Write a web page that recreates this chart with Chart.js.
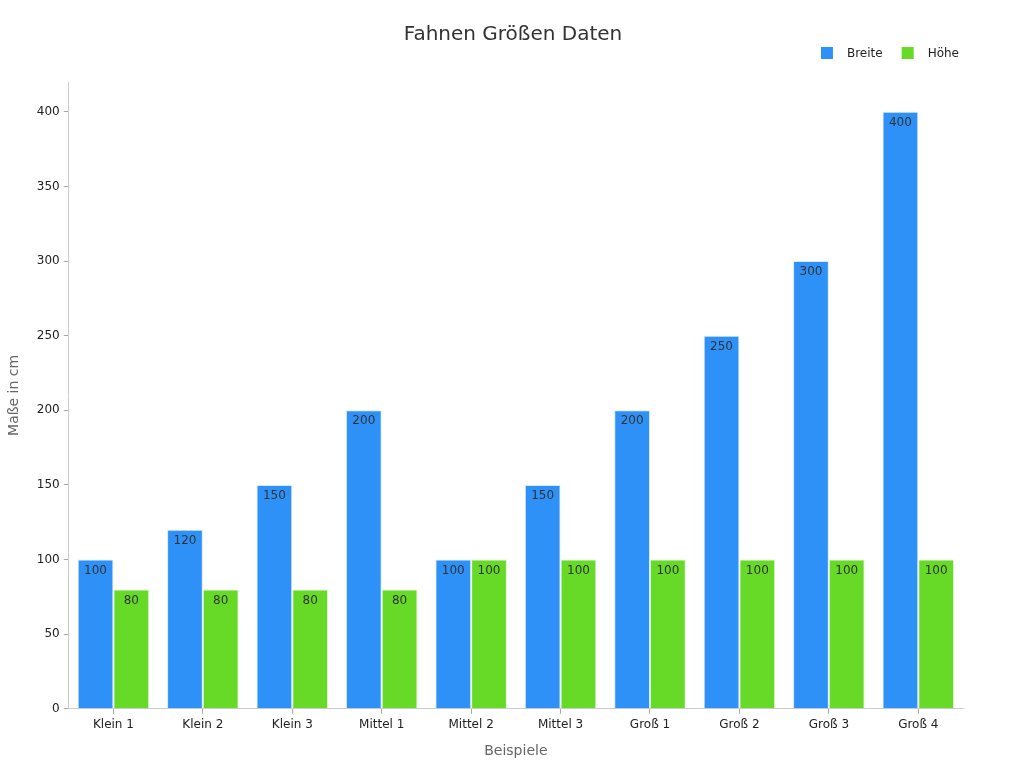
<!DOCTYPE html>
<html>
<head>
<meta charset="utf-8">
<script src="https://cdn.jsdelivr.net/npm/chart.js@4"></script>
<style>
  html, body { margin: 0; padding: 0; background: #fff; }
  #wrap { width: 1024px; height: 768px; }
</style>
</head>
<body>
<div id="wrap"><canvas id="flagChart"></canvas></div>
<script>
const categories = ['Klein 1', 'Klein 2', 'Klein 3', 'Mittel 1', 'Mittel 2', 'Mittel 3', 'Groß 1', 'Groß 2', 'Groß 3', 'Groß 4'];
const breite = [100, 120, 150, 200, 100, 150, 200, 250, 300, 400];
const hoehe = [80, 80, 80, 80, 100, 100, 100, 100, 100, 100];
const seriesNames = ['Breite', 'Höhe'];

const fontFamily = '"DejaVu Sans", sans-serif';

// Werte oben in den Balken
const valueLabels = {
  id: 'valueLabels',
  afterDatasetsDraw(chart) {
    const ctx = chart.ctx;
    ctx.save();
    ctx.font = '12px ' + fontFamily;
    ctx.fillStyle = '#333';
    ctx.textAlign = 'center';
    ctx.textBaseline = 'top';
    chart.data.datasets.forEach((ds, i) => {
      chart.getDatasetMeta(i).data.forEach((bar, j) => {
        ctx.fillText(String(ds.data[j]), bar.x, bar.y + 5);
      });
    });
    ctx.restore();
  }
};

// Legende rechts oben, wie im Original
const topLegend = {
  id: 'topLegend',
  afterDraw(chart) {
    const ctx = chart.ctx;
    ctx.save();
    ctx.font = '12px ' + fontFamily;
    ctx.textBaseline = 'middle';
    ctx.textAlign = 'left';
    const y = 53;
    let x = chart.chartArea.right - 4;
    const items = chart.data.datasets.map(ds => ({ text: ds.label, color: ds.backgroundColor })).reverse();
    items.forEach(it => {
      const w = ctx.measureText(it.text).width;
      x -= w;
      ctx.fillStyle = '#222';
      ctx.fillText(it.text, x, y + 1);
      x -= 26;
      ctx.fillStyle = it.color;
      ctx.fillRect(x, y - 6, 12, 12);
      x -= 19;
    });
    ctx.restore();
  }
};

new Chart(document.getElementById('flagChart'), {
  type: 'bar',
  data: {
    labels: categories,
    datasets: [
      { label: seriesNames[0], data: breite, backgroundColor: '#2e91f7', borderColor: '#d8e8f8', borderWidth: 1 },
      { label: seriesNames[1], data: hoehe, backgroundColor: '#66da26', borderColor: '#def5d0', borderWidth: 1 }
    ]
  },
  options: {
    responsive: true,
    maintainAspectRatio: false,
    animation: false,
    datasets: { bar: { categoryPercentage: 0.8, barPercentage: 1 } },
    layout: { padding: { left: 2, right: 0, top: 0, bottom: 4 } },
    scales: {
      x: {
        grid: { display: true, drawOnChartArea: false, offset: false, tickLength: 5, color: '#aaa' },
        border: { color: '#ccc' },
        ticks: { color: '#222', font: { family: fontFamily, size: 12 }, padding: 4 },
        title: { display: true, text: 'Beispiele', color: '#666', font: { family: fontFamily, size: 14 }, padding: { top: 7, bottom: 4 } }
      },
      y: {
        min: 0,
        max: 420,
        afterBuildTicks: (axis) => { axis.ticks = axis.ticks.filter(t => t.value % 50 === 0); },
        ticks: { stepSize: 50, color: '#222', font: { family: fontFamily, size: 12 }, padding: 4 },
        grid: { display: true, drawOnChartArea: false, tickLength: 5, color: '#aaa' },
        border: { color: '#ccc' },
        title: { display: true, text: 'Maße in cm', color: '#666', font: { family: fontFamily, size: 14 }, padding: { top: 4, bottom: 10 } }
      },
      // leerer Rand rechts, damit der Titel mittig bleibt
      yRight: {
        position: 'right',
        display: true,
        grid: { display: false },
        border: { display: false },
        ticks: { display: false },
        afterFit: (axis) => { axis.width = 61; }
      }
    },
    plugins: {
      title: {
        display: true,
        text: 'Fahnen Größen Daten',
        color: '#333',
        font: { family: fontFamily, size: 20, weight: 'normal' },
        padding: { top: 23, bottom: 35 }
      },
      legend: { display: false },
      tooltip: { enabled: false }
    }
  },
  plugins: [valueLabels, topLegend]
});
</script>
</body>
</html>
